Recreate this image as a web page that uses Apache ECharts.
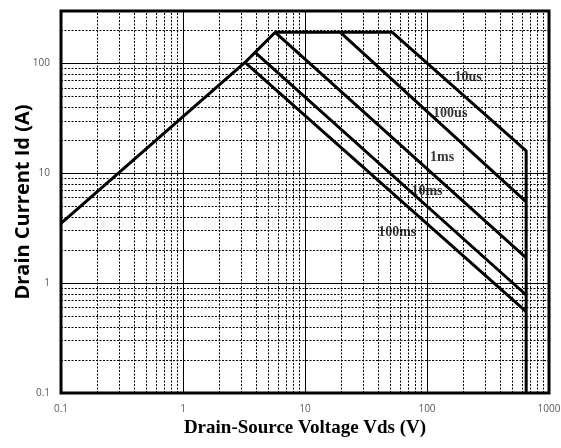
<!DOCTYPE html>
<html>
<head>
<meta charset="utf-8">
<script src="https://cdn.jsdelivr.net/npm/echarts@6/dist/echarts.min.js"></script>
<style>
  html, body { margin: 0; padding: 0; background: #fff; }
  #main { width: 561px; height: 448px; }
</style>
</head>
<body>
<div id="main"></div>
<script>
// SOA boundaries, each point is [Vds (V), Id (A)]
const line100ms = [[0.1, 3.5], [3.22, 102], [650, 0.55]];
const line10ms = [[3.22, 102], [3.9, 126], [650, 0.78]];
const line1ms = [[3.9, 126], [5.7, 192], [650, 1.7]];
const line100us = [[5.7, 192], [19.5, 192], [650, 5.5]];
const line10us = [[19.5, 192], [52, 192], [650, 16], [650, 0.1]];

// pulse width labels
const pulseNames = ["10us", "100us", "1ms", "10ms", "100ms"];
const labelVds = [217, 155, 133, 100, 57];
const labelId = [75, 35, 14, 6.9, 2.9];

// minor (dotted) grid
const xDecades = [0.1, 1, 10, 100];
const yDecades = [0.1, 1, 10];
const yMinorExtra = [200];
const minorSteps = [2, 3, 4, 5, 6, 7, 8, 9];

const chart = echarts.init(document.getElementById("main"));

const minorX = [];
xDecades.forEach(d => minorSteps.forEach(k => minorX.push({ xAxis: +(d * k).toPrecision(3) })));
const minorY = [];
yDecades.forEach(d => minorSteps.forEach(k => minorY.push({ yAxis: +(d * k).toPrecision(3) })));
yMinorExtra.forEach(v => minorY.push({ yAxis: v }));

const curve = (name, data) => ({
  name: name,
  type: "line",
  data: data,
  showSymbol: false,
  symbol: "none",
  z: 5,
  lineStyle: { color: "#000", width: 3 },
  silent: true
});

// only label the decades
const decadeLabel = v => (Math.abs(Math.log10(v) - Math.round(Math.log10(v))) < 1e-6 ? String(+v.toPrecision(3)) : "");

const tickFont = { color: "#595959", fontSize: 10, fontFamily: "Open Sans" };

const option = {
  animation: false,
  backgroundColor: "#fff",
  grid: {
    left: 61, top: 11, width: 488, height: 382,
    outerBoundsMode: "none",
    containLabel: false,
    show: true, borderColor: "#000", borderWidth: 3,
    backgroundColor: "transparent"
  },
  xAxis: {
    type: "log", logBase: 10, min: 0.1, max: 1000,
    name: "Drain-Source Voltage Vds (V)",
    nameLocation: "middle", nameGap: 26, nameMoveOverlap: false,
    nameTextStyle: { fontFamily: "Liberation Serif", fontWeight: "bold", fontSize: 19, color: "#000" },
    axisLine: { show: false },
    axisTick: { show: false },
    axisLabel: Object.assign({ margin: 11, formatter: decadeLabel }, tickFont),
    splitLine: { show: true, lineStyle: { color: "#000", width: 1 } }
  },
  yAxis: {
    type: "log", logBase: 10, min: 0.1, max: 300,
    name: "Drain Current Id (A)",
    nameLocation: "middle", nameGap: 28, nameMoveOverlap: false,
    nameTextStyle: { fontFamily: "Open Sans", fontWeight: "bold", fontSize: 20, color: "#000" },
    axisLine: { show: false },
    axisTick: { show: false },
    axisLabel: Object.assign({ margin: 11, showMaxLabel: false, formatter: decadeLabel }, tickFont),
    splitLine: { show: true, lineStyle: { color: "#000", width: 1 } }
  },
  series: [
    {
      name: "minor grid",
      type: "line",
      data: [],
      z: 1,
      silent: true,
      markLine: {
        silent: true,
        symbol: "none",
        label: { show: false },
        emphasis: { disabled: true },
        lineStyle: { color: "#000", width: 1, type: [2, 1.5] },
        data: minorX.concat(minorY)
      }
    },
    curve("100ms", line100ms),
    curve("10ms", line10ms),
    curve("1ms", line1ms),
    curve("100us", line100us),
    curve("10us", line10us),
    {
      name: "labels",
      type: "scatter",
      z: 6,
      silent: true,
      symbolSize: 1,
      itemStyle: { color: "rgba(0,0,0,0)" },
      label: {
        show: true, position: "inside", formatter: p => p.name,
        fontFamily: "Liberation Serif", fontWeight: "bold", fontSize: 14, color: "#000"
      },
      data: pulseNames.map((n, i) => ({ name: n, value: [labelVds[i], labelId[i]] }))
    }
  ]
};

chart.setOption(option);
</script>
</body>
</html>
